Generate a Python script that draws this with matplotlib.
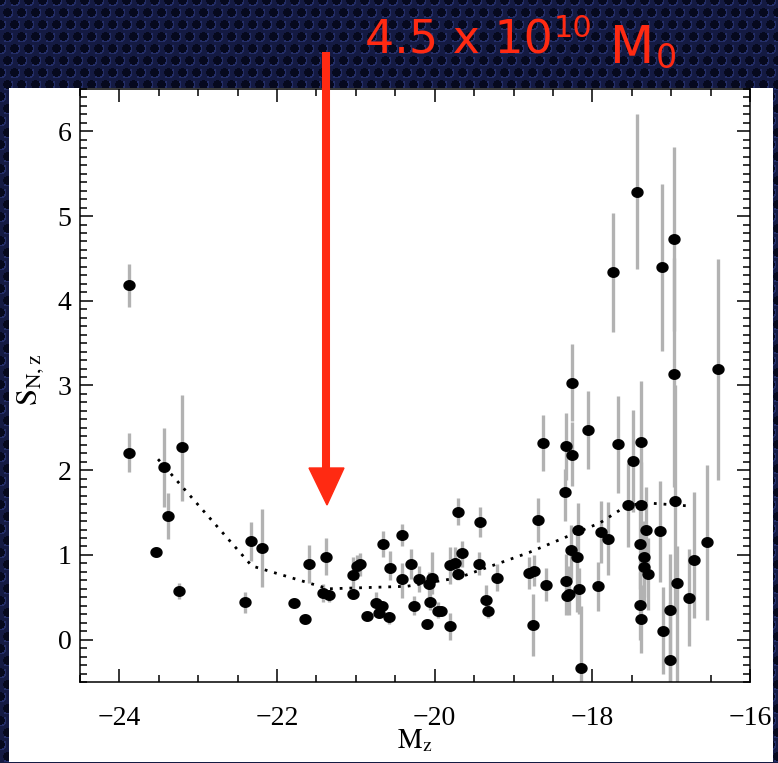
import numpy as np
import matplotlib
matplotlib.use("Agg")
import matplotlib.pyplot as plt
from matplotlib.path import Path
from matplotlib.patches import Rectangle, Polygon
from matplotlib.ticker import MultipleLocator

# ---------------------------------------------------------------------------
# Data: absolute z-band magnitude, specific frequency S_N,z and its error range
# ---------------------------------------------------------------------------
mz = [-23.88, -23.88, -23.54, -23.43, -23.38, -23.25, -23.20, -22.41, -22.33, -22.19,
      -21.79, -21.645, -21.59, -21.42, -21.38, -21.34, -21.04, -21.04, -20.98, -20.95,
      -20.86, -20.74, -20.71, -20.67, -20.66, -20.58, -20.57, -20.41, -20.41, -20.30,
      -20.26, -20.20, -20.10, -20.07, -20.06, -20.03, -19.96, -19.92, -19.81, -19.81,
      -19.74, -19.71, -19.70, -19.65, -19.44, -19.43, -19.35, -19.33, -19.21, -18.80,
      -18.75, -18.74, -18.69, -18.63, -18.59, -18.35, -18.33, -18.33, -18.32, -18.29,
      -18.27, -18.26, -18.26, -18.19, -18.18, -18.17, -18.14, -18.05, -17.93, -17.89,
      -17.80, -17.74, -17.67, -17.55, -17.48, -17.43, -17.40, -17.39, -17.38, -17.38,
      -17.38, -17.35, -17.35, -17.32, -17.30, -17.14, -17.12, -17.10, -17.01, -17.01,
      -16.96, -16.96, -16.95, -16.93, -16.78, -16.71, -16.54, -16.41]
sn = [4.19, 2.20, 1.04, 2.04, 1.46, 0.57, 2.27, 0.44, 1.16, 1.08,
      0.43, 0.24, 0.89, 0.55, 0.98, 0.53, 0.76, 0.54, 0.87, 0.89,
      0.28, 0.43, 0.31, 0.40, 1.13, 0.27, 0.85, 1.24, 0.71, 0.89,
      0.40, 0.71, 0.19, 0.66, 0.45, 0.73, 0.34, 0.34, 0.16, 0.88,
      0.91, 1.51, 0.78, 1.02, 0.89, 1.39, 0.47, 0.34, 0.73, 0.79,
      0.17, 0.81, 1.41, 2.32, 0.65, 1.74, 2.28, 0.69, 0.51, 0.54,
      1.06, 3.03, 2.18, 0.97, 1.29, 0.60, -0.33, 2.47, 0.63, 1.27,
      1.19, 4.34, 2.31, 1.59, 2.11, 5.29, 1.13, 0.41, 2.33, 1.59,
      0.24, 0.98, 0.86, 1.29, 0.77, 1.28, 4.40, 0.10, 0.35, -0.24,
      4.73, 3.14, 1.64, 0.67, 0.49, 0.94, 1.15, 3.19]
sn_lo = [3.93, 1.98, 1.04, 1.57, 1.19, 0.48, 1.64, 0.31, 0.93, 0.62,
         0.43, 0.24, 0.67, 0.44, 0.76, 0.44, 0.54, 0.48, 0.72, 0.75,
         0.28, 0.35, 0.31, 0.40, 0.98, 0.18, 0.70, 1.11, 0.49, 0.72,
         0.29, 0.56, 0.19, 0.50, 0.35, 0.54, 0.25, 0.34, 0.00, 0.66,
         0.75, 1.35, 0.70, 0.86, 0.76, 1.21, 0.35, 0.26, 0.57, 0.60,
         -0.19, 0.63, 1.15, 1.99, 0.46, 1.40, 1.89, 0.29, 0.30, 0.29,
         0.72, 2.58, 1.81, 0.33, 0.97, 0.30, -0.50, 2.01, 0.34, 0.91,
         0.76, 3.63, 1.73, 1.09, 1.51, 4.38, 0.60, 0.00, 1.60, 1.00,
         -0.16, 0.50, 0.40, 0.80, 0.35, 0.68, 3.41, -0.40, -0.50, -0.50,
         3.64, 1.80, 0.30, -0.50, -0.08, 0.25, 0.23, 1.89]
sn_hi = [4.44, 2.44, 1.04, 2.50, 1.73, 0.67, 2.89, 0.56, 1.39, 1.54,
         0.43, 0.24, 1.12, 0.66, 1.20, 0.58, 0.98, 0.60, 1.00, 1.02,
         0.28, 0.56, 0.31, 0.40, 1.28, 0.33, 1.05, 1.36, 0.91, 1.07,
         0.51, 0.87, 0.19, 0.80, 0.55, 1.04, 0.45, 0.34, 0.31, 1.09,
         1.09, 1.67, 0.88, 1.17, 1.03, 1.56, 0.64, 0.43, 0.89, 0.97,
         0.54, 1.00, 1.67, 2.65, 0.85, 2.01, 2.67, 1.01, 0.75, 0.87,
         1.35, 3.49, 2.57, 1.25, 1.61, 0.85, 0.40, 2.93, 0.92, 1.64,
         1.62, 5.04, 2.88, 2.08, 2.71, 6.21, 1.60, 0.80, 3.05, 2.10,
         0.65, 1.40, 1.30, 1.80, 1.20, 1.87, 5.38, 0.62, 1.01, 0.45,
         5.82, 4.50, 3.00, 1.11, 1.07, 1.74, 2.06, 4.49]

# running mean of S_N,z in magnitude bins
trend_mz = [-23.51, -22.32, -21.35, -20.35, -19.70, -18.80, -17.90, -17.55, -17.25, -16.80]
trend_sn = [2.13, 0.87, 0.60, 0.63, 0.73, 1.03, 1.38, 1.59, 1.61, 1.58]

x_ticks = [-24, -22, -20, -18, -16]
y_ticks = [0, 1, 2, 3, 4, 5, 6]
mass_label = "4.5 x 10"
mass_exp = "10"

# ---------------------------------------------------------------------------
W, H = 778, 763
plt.rcParams["mathtext.fontset"] = "stix"
fig = plt.figure(figsize=(W / 100, H / 100), dpi=100)

# perforated dark-blue backdrop
yy, xx = np.mgrid[0:H, 0:W].astype(float)
dx, dy = 14.0, 12.0
row = np.round(yy / dy)
off = (row % 2) * dx / 2
col = np.round((xx - off) / dx)
cx = col * dx + off
cy = row * dy
d = np.hypot(xx - cx, yy - cy)
tex = np.empty((H, W, 3))
tex[:] = np.array([20, 26, 66]) / 255
tex[d < 4.3] = np.array([6, 9, 30]) / 255
ring = (d >= 4.3) & (d < 6.0) & ((yy - cy) + (xx - cx) > 0)
tex[ring] = np.array([36, 46, 104]) / 255

bg = fig.add_axes([0, 0, 1, 1], zorder=0)
bg.imshow(tex, extent=(0, W, H, 0), interpolation="bilinear", aspect="auto")
bg.set_xlim(0, W)
bg.set_ylim(H, 0)
bg.axis("off")
bg.add_patch(Rectangle((9, 88), 764, 674, facecolor="white", edgecolor="none"))

# main panel
ax = fig.add_axes([80 / W, 1 - 682 / H, 670 / W, 593 / H], zorder=1)
ax.set_facecolor("white")
ax.set_xlim(-24.5, -16)
ax.set_ylim(-0.5, 6.5)

ax.vlines(mz, sn_lo, sn_hi, color="#b2b2b2", lw=2.4, zorder=2)
ax.plot(trend_mz, trend_sn, color="black", lw=2.0, ls=(0, (1, 2.5)), zorder=2.5)

theta = np.linspace(0, 2 * np.pi, 40)
ellipse = Path(np.column_stack([1.15 * np.cos(theta), np.sin(theta)]), closed=True)
ax.plot(mz, sn, ls="none", marker=ellipse, ms=7.9, color="black", mec="black", zorder=3)

ax.set_xticks(x_ticks)
ax.set_yticks(y_ticks)
ax.xaxis.set_minor_locator(MultipleLocator(0.5))
ax.yaxis.set_minor_locator(MultipleLocator(0.1))
ax.tick_params(which="both", direction="in", top=True, right=True, width=1.1, color="black")
ax.tick_params(which="major", length=9.5)
ax.tick_params(which="minor", length=5)
ax.tick_params(axis="x", pad=17, labelsize=20)
ax.tick_params(axis="y", pad=6, labelsize=20)
for lab in ax.get_xticklabels() + ax.get_yticklabels():
    lab.set_family("Liberation Serif")
for sp in ax.spines.values():
    sp.set_linewidth(1.1)

fig.text(415 / W, 1 - 748 / H, r"$\mathrm{M_z}$", ha="center", va="baseline", fontsize=20)
fig.text(31 / W, 1 - 380 / H, r"$\mathrm{S_{N,z}}$", ha="center", va="center",
         rotation=90, fontsize=22)

# annotation layer in pixel coordinates
ov = fig.add_axes([0, 0, 1, 1], zorder=3)
ov.set_xlim(0, W)
ov.set_ylim(H, 0)
ov.axis("off")
red = "#ff2a12"
ov.plot([326, 326], [52, 472], color=red, lw=5.8, solid_capstyle="butt")
ov.add_patch(Polygon([(309, 468), (344, 468), (327, 505)], closed=True,
                     facecolor=red, edgecolor=red, lw=1))

# mass label laid out piece by piece from measured text extents
fig.canvas.draw()
renderer = fig.canvas.get_renderer()
inv = ov.transData.inverted()


def right_edge(artist):
    bb = artist.get_window_extent(renderer)
    return inv.transform((bb.x1, bb.y0))[0]


t_main = ov.text(365, 54, mass_label, color=red, fontsize=33, family="DejaVu Sans",
                 ha="left", va="baseline")
x_exp = right_edge(t_main) + 1
t_exp = ov.text(x_exp, 37, mass_exp, color=red, fontsize=22, family="DejaVu Sans",
                ha="left", va="baseline")
x_m = right_edge(t_exp) + 18
t_m = ov.text(x_m, 63, "M", color=red, fontsize=37, family="DejaVu Sans",
              ha="left", va="baseline")
ov.text(right_edge(t_m) + 1, 68, "0", color=red, fontsize=24, family="DejaVu Sans",
        ha="left", va="baseline")

fig.savefig("out.png", dpi=100)
